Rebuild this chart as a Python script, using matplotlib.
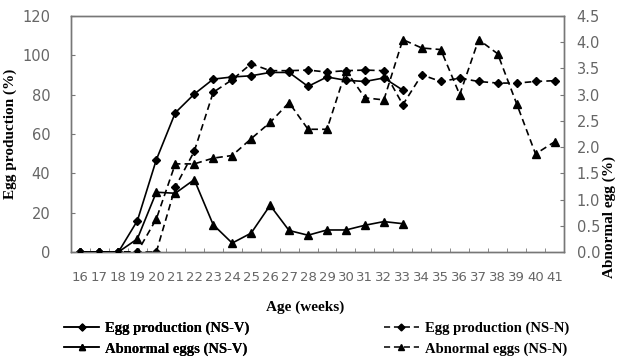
import numpy as np
import matplotlib
matplotlib.use('Agg')
import matplotlib.pyplot as plt
from matplotlib.lines import Line2D

weeks = list(range(16, 42))
egg_nsv = [0, 0, 0, 15.9, 46.9, 70.8, 80.3, 87.9, 89.0, 89.6, 91.3, 91.3, 84.2,
           89.0, 87.3, 86.7, 88.5, 82.3]
egg_nsn = [0, 0, 0, 0, 0, 33.0, 51.2, 81.2, 87.6, 95.7, 92.2, 92.2, 92.5, 91.5,
           92.2, 92.5, 92.2, 74.9, 90.1, 86.7, 88.4, 86.7, 85.9, 85.9, 86.7, 87.1]
abn_nsv = [0, 0, 0, 0.25, 1.14, 1.12, 1.38, 0.52, 0.17, 0.36, 0.89, 0.41, 0.32,
           0.42, 0.42, 0.51, 0.58, 0.54]
abn_nsn = [0, 0, 0, 0, 0.63, 1.68, 1.68, 1.79, 1.84, 2.16, 2.47, 2.85, 2.34, 2.34,
           3.46, 2.94, 2.90, 4.05, 3.89, 3.86, 3.00, 4.05, 3.78, 2.83, 1.87, 2.10]

serif = 'Liberation Serif'
tick_col = '#666666'
spine_col = '#777777'

fig = plt.figure(figsize=(6.18, 3.57), dpi=100)
ax = fig.add_axes([71/618, 1-252/357, (564-71)/618, (252-16)/357])
ax2 = ax.twinx()

x = np.arange(len(weeks))
xv = x[:len(egg_nsv)]

dash = (0, (4, 2.5))
ax.plot(x, egg_nsn, color='black', lw=1.2, linestyle=dash, marker='D', ms=4.4, zorder=3)
ax.plot(xv, egg_nsv, color='black', lw=1.2, marker='D', ms=4.4, zorder=3)
ax2.plot(x, abn_nsn, color='black', lw=1.2, linestyle=dash, marker='^', ms=6.2, zorder=3)
ax2.plot(xv, abn_nsv, color='black', lw=1.2, marker='^', ms=6.2, zorder=3)

ax.set_xlim(-0.5, len(weeks) - 0.5)
ax.set_ylim(0, 120)
ax2.set_ylim(0, 4.5)
ax.set_yticks(np.arange(0, 121, 20))
ax2.set_yticks(np.arange(0, 4.51, 0.5))
ax2.set_yticklabels(['%.1f' % v for v in np.arange(0, 4.51, 0.5)])

ax.set_xticks(x)
ax.set_xticklabels([str(w) for w in weeks])
ax.set_xticks(np.arange(-0.5, len(weeks), 1), minor=True)
ax.tick_params(axis='x', which='major', length=0, pad=14, labelsize=9.5, labelcolor=tick_col)
ax.tick_params(axis='x', which='minor', direction='in', length=3, color=spine_col)
ax.tick_params(axis='y', direction='in', length=3, color=spine_col, labelsize=10.5,
               labelcolor=tick_col, pad=15)
ax2.tick_params(axis='y', direction='in', length=3, color=spine_col, labelsize=10.5,
                labelcolor=tick_col, pad=9)
for a in (ax, ax2):
    for s in a.spines.values():
        s.set_color(spine_col)
        s.set_linewidth(1.0)

ax.set_ylabel('Egg production (%)', fontfamily=serif, fontweight='bold', fontsize=11, labelpad=4)
fig.text(609/618, 140/357, 'Abnormal egg (%)', rotation=90, ha='center', va='center',
         fontfamily=serif, fontweight='bold', fontsize=11)
fig.text(305/618, 1-307/357, 'Age (weeks)', ha='center', va='center',
         fontfamily=serif, fontweight='bold', fontsize=11)

h1 = Line2D([], [], color='black', lw=1.1, marker='D', ms=3.5)
h2 = Line2D([], [], color='black', lw=1.1, marker='^', ms=5)
h3 = Line2D([], [], color='black', lw=1.1, linestyle=dash, marker='D', ms=3.5)
h4 = Line2D([], [], color='black', lw=1.1, linestyle=dash, marker='^', ms=5)
lp = dict(family=serif, weight='bold', size=10.5)
leg1 = fig.legend([h1, h2], ['Egg production (NS-V)', 'Abnormal eggs (NS-V)'],
                  loc='center left', bbox_to_anchor=(64/618, 1-338.5/357), frameon=False,
                  prop=lp, handlelength=2.4, handletextpad=0.4, labelspacing=0.5,
                  borderpad=0, borderaxespad=0)
leg2 = fig.legend([h3, h4], ['Egg production (NS-N)', 'Abnormal eggs (NS-N)'],
                  loc='center left', bbox_to_anchor=(384/618, 1-338.5/357), frameon=False,
                  prop=lp, handlelength=2.4, handletextpad=0.4, labelspacing=0.5,
                  borderpad=0, borderaxespad=0)
fig.add_artist(leg1)

fig.savefig('out.png', dpi=100)
